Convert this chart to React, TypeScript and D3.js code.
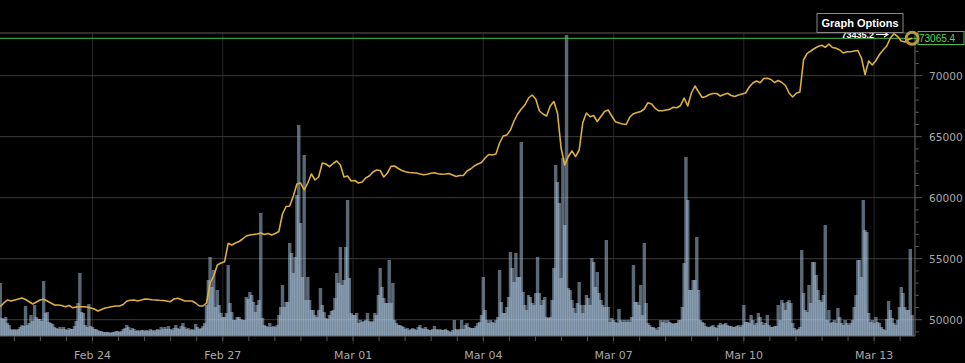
import React from "react";
import * as d3 from "d3";

// ---- data ----
// start of series: 2024-02-21 21:00 UTC
const seriesStart = Date.UTC(2024, 1, 21, 21);

// price, every 2 hours
const priceValues: number[] = [
  51070, 51370, 51615, 51530, 51615, 51700, 51780, 51655, 51475, 51285,
  51450, 51615, 51670, 51530, 51370, 51205, 51205, 51165, 51066, 51165,
  50985, 51040, 51066, 51066, 51040, 50960, 50877, 50713, 50836, 50960,
  51016, 51082, 51123, 51123, 51246, 51533, 51590, 51615, 51533, 51615,
  51697, 51672, 51639, 51615, 51590, 51574, 51533, 51475, 51697, 51754,
  51656, 51533, 51533, 51533, 51369, 51123, 51123, 51369, 53008, 53582,
  54484, 54648, 54754, 56262, 56123, 56287, 56410, 56615, 56861, 56943,
  56984, 57025, 57107, 56984, 57066, 56943, 57066, 57229, 58664, 59279,
  59320, 60139, 61123, 61205, 60631, 61205, 61943, 61451, 61697, 62844,
  62762, 62541, 62803, 63008, 62680, 61697, 61779, 61369, 61410, 61205,
  61287, 61615, 61779, 62107, 62270, 62230, 61697, 62025, 62574, 62598,
  62393, 62230, 62131, 62066, 62049, 62025, 61943, 61885, 61918, 62000,
  62041, 61967, 61918, 61943, 61984, 61861, 61738, 61820, 61820, 62188,
  62352, 62598, 62762, 62885, 63254, 63541, 63500, 63582, 64484, 65057,
  65139, 65549, 66287, 66861, 67271, 67598, 68172, 68418, 68090, 67107,
  66861, 66697, 67516, 67885, 66943, 64074, 62680, 63377, 63828, 63361,
  63910, 66164, 66943, 66639, 66738, 66246, 66656, 67066, 67189, 66697,
  66230, 66123, 66041, 66000, 66615, 66885, 66984, 67066, 67271, 67787,
  67680, 67328, 67123, 67123, 67189, 67238, 67410, 67377, 67557, 68172,
  67516, 68582, 69156, 68664, 68213, 68295, 68459, 68541, 68541, 68336,
  68459, 68557, 68377, 68295, 68418, 68500, 68582, 69074, 69402, 69566,
  69426, 69770, 69787, 69689, 69443, 69607, 69443, 69197, 68582, 68254,
  68557, 68664, 71287, 71836, 72025, 72229, 72393, 72500, 72328, 72582,
  72311, 72246, 72107, 71861, 71967, 71967, 72025, 72066, 71451, 70100,
  71205, 70877, 71246, 71738, 72107, 72434, 73090, 73435.2, 73213, 72844,
  72762, 72967, 73065.4,
];

// hourly volume (relative units)
const volumeValues: number[] = [
  52, 17, 16, 18, 12, 10, 6, 5, 6, 5,
  6, 8, 10, 9, 29, 10, 12, 20, 14, 30,
  18, 16, 16, 14, 54, 22, 23, 13, 12, 11,
  8, 7, 6, 8, 6, 8, 6, 5, 7, 6,
  6, 9, 14, 32, 62, 23, 22, 10, 8, 31,
  9, 8, 6, 6, 5, 4, 4, 3, 3, 3,
  3, 2, 3, 3, 4, 4, 3, 4, 6, 7,
  10, 8, 5, 7, 6, 4, 5, 4, 5, 5,
  4, 5, 4, 6, 5, 4, 5, 6, 5, 8,
  6, 8, 6, 9, 6, 5, 7, 10, 7, 6,
  9, 12, 8, 6, 7, 5, 6, 5, 11, 8,
  6, 7, 9, 12, 30, 55, 78, 48, 65, 28,
  45, 30, 22, 18, 18, 22, 70, 32, 23, 15,
  15, 18, 18, 16, 15, 15, 38, 36, 43, 40,
  33, 23, 30, 35, 122, 17, 10, 9, 8, 12,
  8, 9, 8, 10, 20, 28, 50, 28, 33, 33,
  92, 82, 62, 78, 140, 210, 112, 58, 180, 35,
  58, 35, 25, 25, 20, 18, 25, 47, 30, 23,
  17, 16, 20, 24, 25, 37, 62, 52, 88, 50,
  55, 88, 135, 57, 22, 20, 20, 22, 12, 15,
  13, 14, 15, 22, 14, 13, 14, 22, 20, 40,
  67, 48, 37, 32, 32, 75, 32, 52, 15, 12,
  10, 10, 9, 8, 6, 7, 5, 6, 7, 6,
  5, 8, 10, 7, 6, 8, 6, 5, 5, 6,
  9, 6, 5, 6, 5, 5, 6, 5, 4, 3,
  5, 15, 6, 5, 6, 15, 6, 10, 12, 8,
  7, 7, 7, 9, 12, 13, 20, 58, 25, 15,
  12, 15, 13, 12, 15, 18, 65, 33, 22, 22,
  28, 38, 83, 67, 53, 82, 58, 58, 193, 43,
  30, 25, 40, 38, 32, 30, 42, 78, 42, 30,
  35, 38, 18, 17, 18, 35, 67, 170, 153, 132,
  57, 177, 110, 300, 47, 45, 35, 27, 22, 32,
  53, 30, 22, 30, 40, 37, 30, 77, 73, 48,
  63, 42, 35, 30, 28, 95, 28, 13, 17, 15,
  13, 12, 26, 15, 13, 15, 13, 15, 13, 18,
  70, 33, 33, 30, 50, 20, 92, 32, 12, 10,
  8, 8, 7, 5, 8, 15, 13, 15, 12, 15,
  13, 12, 11, 12, 12, 15, 15, 28, 72, 178,
  135, 45, 45, 55, 55, 98, 45, 15, 13, 12,
  9, 8, 8, 9, 10, 8, 7, 10, 12, 10,
  11, 12, 10, 9, 9, 8, 8, 9, 10, 8,
  10, 30, 13, 13, 12, 20, 15, 10, 12, 22,
  18, 13, 10, 12, 20, 10, 8, 8, 9, 9,
  30, 15, 35, 32, 25, 33, 35, 32, 12, 7,
  5, 6, 8, 85, 42, 25, 23, 50, 32, 73,
  73, 60, 45, 35, 33, 40, 110, 15, 25, 12,
  13, 15, 12, 27, 18, 12, 10, 15, 12, 10,
  12, 15, 28, 40, 75, 75, 58, 135, 105, 103,
  22, 13, 15, 12, 18, 13, 12, 8, 6, 5,
  16, 34, 25, 17, 12, 10, 15, 28, 48, 42,
  28, 25, 25, 86, 20,
];

const xTickDates: string[] = ["2024-02-24", "2024-02-27", "2024-03-01", "2024-03-04", "2024-03-07", "2024-03-10", "2024-03-13"];
const yTickValues: number[] = [50000, 55000, 60000, 65000, 70000];
const maxLabel = "73435.2";
const lastLabel = "73065.4";
const optionsLabel = "Graph Options";

const HOUR = 3600e3;

export default function App() {
  const W = 965, H = 363;
  const plotRight = 915, plotTop = 33, plotBottom = 336;

  const x = d3.scaleUtc()
    .domain([new Date(Date.UTC(2024, 1, 24)), new Date(Date.UTC(2024, 2, 13))])
    .range([92.5, 874.1]);
  const y = d3.scaleLinear().domain([50000, 70000]).range([319.7, 75.7]);
  const yv = d3.scaleLinear().domain([0, 300]).range([335, 35]);

  const priceData = priceValues.map((v, k) => ({ t: new Date(seriesStart + 2 * k * HOUR), v }));
  const volData = volumeValues.map((v, h) => ({ t: new Date(seriesStart + h * HOUR), v }));

  const line = d3.line<{ t: Date; v: number }>().x(d => x(d.t)).y(d => y(d.v));

  const fmt = d3.utcFormat("%b %d");
  const majorDates = xTickDates.map(s => new Date(s + "T00:00:00Z"));
  const minorStep = 3 * 24 * HOUR / 5;
  const feb24 = Date.UTC(2024, 1, 24);
  const minorX: number[] = d3.range(-5, 45).map(n => x(new Date(feb24 + n * minorStep))).filter(v => v >= 0 && v <= plotRight);
  const minorY = d3.range(49000, 74000, 1000);

  const last = priceData[priceData.length - 1];
  const lastX = x(last.t), lastY = y(last.v);
  const barW = 3.4;

  const font = "'Liberation Sans', Arial, sans-serif";
  const axisFont = "'DejaVu Sans', Verdana, sans-serif";

  return (
    <svg width={W} height={H} style={{ position: "absolute", left: 0, top: 0, background: "#000" }} fontFamily={font}>
      <rect x={0} y={0} width={W} height={H} fill="#000" />
      <defs>
        <clipPath id="plot">
          <rect x={0} y={0} width={plotRight} height={plotBottom} />
        </clipPath>
      </defs>
      {/* vertical grid */}
      {majorDates.map((d, i) => (
        <line key={"vg" + i} x1={x(d)} x2={x(d)} y1={plotTop} y2={plotBottom + 8} stroke="#262626" />
      ))}
      {/* horizontal grid */}
      {yTickValues.map((v, i) => (
        <line key={"hg" + i} x1={0} x2={plotRight} y1={y(v)} y2={y(v)} stroke="#3a3a3a" />
      ))}
      <line x1={0} x2={plotRight} y1={plotTop} y2={plotTop} stroke="#5a5a5a" />
      {/* volume bars */}
      <g clipPath="url(#plot)">
        {volData.map((d, i) => (
          <rect key={"b" + i} x={x(d.t) - barW / 2} y={yv(d.v)} width={barW} height={yv(0) - yv(d.v) + 1}
            fill="#b4d0ec" fillOpacity={0.5} />
        ))}
      </g>
      {/* axes */}
      <line x1={0} x2={plotRight} y1={plotBottom} y2={plotBottom} stroke="#6a6a6a" />
      <line x1={plotRight} x2={plotRight} y1={plotTop} y2={plotBottom} stroke="#6a6a6a" />
      {minorX.map((mx, i) => (
        <line key={"mx" + i} x1={mx} x2={mx} y1={plotBottom} y2={plotBottom + 5} stroke="#555" />
      ))}
      {minorY.map((v, i) => (
        <line key={"my" + i} x1={plotRight} x2={plotRight + (v % 5000 === 0 ? 7 : 4)} y1={y(v)} y2={y(v)} stroke="#555" />
      ))}
      {majorDates.map((d, i) => (
        <text key={"xl" + i} x={x(d)} y={359} textAnchor="middle" fontSize={11} fontFamily={axisFont} fill="#a8a8a8">{fmt(d)}</text>
      ))}
      {yTickValues.map((v, i) => (
        <text key={"yl" + i} x={929} y={y(v) + 4} fontSize={10.6} fontFamily={axisFont} fill="#a8a8a8">{v}</text>
      ))}
      {/* last price line */}
      <line x1={0} x2={plotRight + 3} y1={lastY} y2={lastY} stroke="#44c044" strokeWidth={1} />
      {/* price line */}
      <g clipPath="url(#plot)">
        <path d={line(priceData) || ""} fill="none" stroke="#dcb040" strokeWidth={1.6} strokeLinejoin="round" />
      </g>
      {/* last price box */}
      <rect x={918} y={31.5} width={46} height={13} fill="#000" stroke="#44c044" strokeWidth={1} />
      <text x={919} y={lastY + 3.5} fontSize={10} fill="#5ad65a">{lastLabel}</text>
      <circle cx={lastX} cy={lastY} r={6} fill="none" stroke="#b59c3c" strokeWidth={3} />
      {/* max annotation */}
      <text x={874} y={37.5} textAnchor="end" fontSize={9} fontWeight="bold" fill="#fff">{maxLabel}</text>
      <line x1={876} x2={887} y1={34.5} y2={34.5} stroke="#fff" strokeWidth={1.1} />
      <path d="M884,32 L888,34.5 L884,37" fill="none" stroke="#fff" strokeWidth={1.1} />
      {/* graph options */}
      <rect x={817} y={13.5} width={86} height={19} fill="#000" stroke="#8a8a8a" strokeWidth={1} />
      <text x={860} y={27} textAnchor="middle" fontSize={11} fontWeight="bold" fill="#fff">{optionsLabel}</text>
    </svg>
  );
}
